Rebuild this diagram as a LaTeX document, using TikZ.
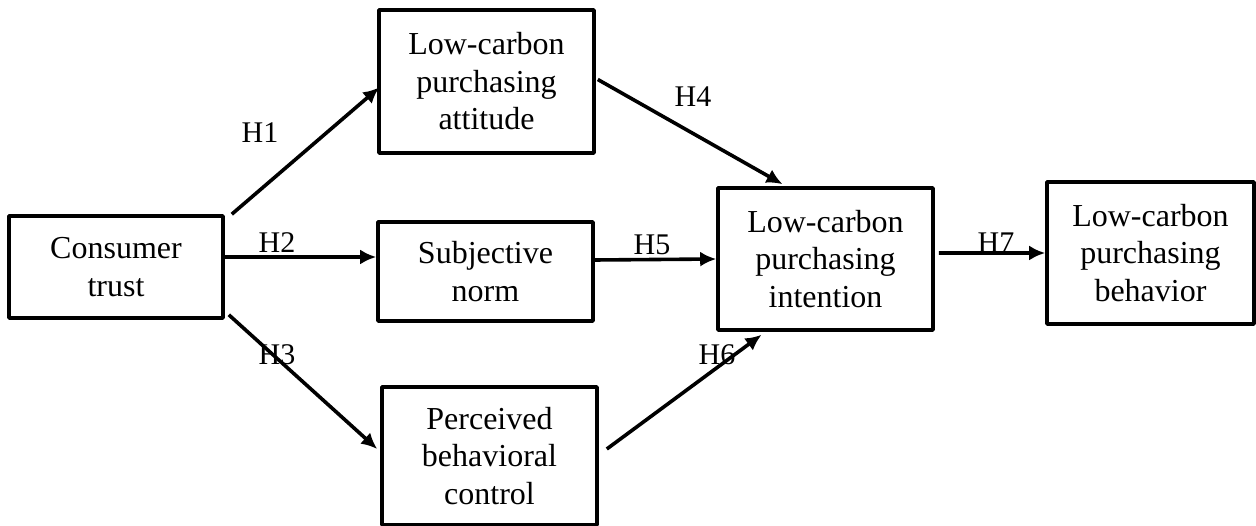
\documentclass[tikz,border=0pt]{standalone}
\usepackage{fontspec}
\setmainfont{Liberation Serif}
\usetikzlibrary{arrows.meta}
\begin{document}
\begin{tikzpicture}[>={Latex[length=16bp,width=15bp]},line join=bevel,
  box/.style={draw,line width=3.6bp,inner sep=0pt,align=center,minimum width=215bp,
    font=\fontsize{32bp}{37.5bp}\selectfont},
  link/.style={->,line width=3.6bp},
  hyp/.style={inner sep=0pt,font=\fontsize{30bp}{34bp}\selectfont}]
  \useasboundingbox (0bp,0bp) rectangle (1256bp,526bp);
%%
  % Node: trust
  \node [box,minimum width=214bp,minimum height=102bp] (trust) at (116bp,259bp) {Consumer\\trust};
  % Node: attitude
  \node [box,minimum height=143bp] (attitude) at (486.5bp,444.5bp) {Low-carbon\\purchasing\\attitude};
  % Node: norm
  \node [box,minimum height=99bp] (norm) at (485.5bp,254.5bp) {Subjective\\norm};
  % Node: control
  \node [box,minimum height=138bp] (control) at (489.5bp,70bp) {Perceived\\behavioral\\control};
  % Node: intention
  \node [box,minimum height=142bp] (intention) at (825.5bp,267bp) {Low-carbon\\purchasing\\intention};
  % Node: behavior
  \node [box,minimum width=207bp,minimum height=142bp] (behavior) at (1150.5bp,273bp) {Low-carbon\\purchasing\\behavior};
%
  % Edge: trust -> attitude
  \draw [link] ([xshift=7bp]trust.north east) -- ([xshift=2bp,yshift=-6bp]attitude.west);
  \node [hyp] (h1) at (260bp,393bp) {H1};
  % Edge: trust -> norm
  \draw [link] ([yshift=10bp]trust.east) -- ([yshift=14.5bp]norm.west);
  \node [hyp] (h2) at (277bp,283bp) {H2};
  % Edge: trust -> control
  \draw [link] ([xshift=4bp,yshift=5bp]trust.south east) -- ([xshift=-3bp,yshift=7bp]control.west);
  \node [hyp] (h3) at (277bp,171bp) {H3};
  % Edge: attitude -> intention
  \draw [link] ([xshift=2bp,yshift=2bp]attitude.east) -- ([xshift=-43bp,yshift=2bp]intention.north);
  \node [hyp] (h4) at (693bp,429bp) {H4};
  % Edge: norm -> intention
  \draw [link] ([yshift=11.5bp]norm.east) -- (intention.west);
  \node [hyp] (h5) at (652bp,281bp) {H5};
  % Edge: control -> intention
  \draw [link] ([xshift=8bp,yshift=7bp]control.east) -- ([xshift=-64bp,yshift=-3bp]intention.south);
  \node [hyp] (h6) at (717bp,171bp) {H6};
  % Edge: intention -> behavior
  \draw [link] ([xshift=4bp,yshift=6bp]intention.east) -- (behavior.west);
  \node [hyp] (h7) at (996bp,283bp) {H7};
%
\end{tikzpicture}
\end{document}
